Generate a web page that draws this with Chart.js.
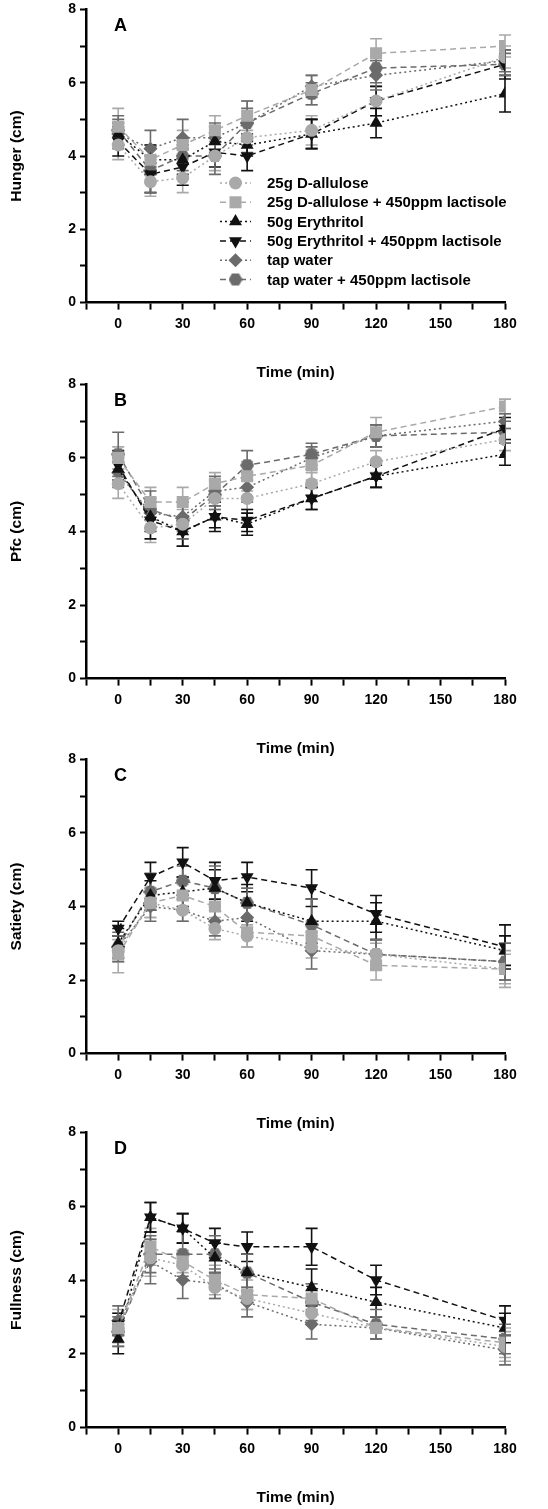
<!DOCTYPE html>
<html>
<head>
<meta charset="utf-8">
<script src="https://cdn.jsdelivr.net/npm/chart.js@4.4.1/dist/chart.umd.min.js"></script>
<style>
html, body { margin: 0; padding: 0; background: #fff; }
body { width: 548px; height: 1509px; position: relative; overflow: hidden; }
canvas { position: absolute; left: 0; }
</style>
</head>
<body>
<canvas id="cA" width="548" height="388" style="top:-3px"></canvas>
<canvas id="cB" width="548" height="389" style="top:372px"></canvas>
<canvas id="cC" width="548" height="389" style="top:747px"></canvas>
<canvas id="cD" width="548" height="390" style="top:1120px"></canvas>
<script>
// time points (min)
const times = [0, 15, 30, 45, 60, 90, 120, 180];
const xTicks = [0, 30, 60, 90, 120, 150, 180];
const yTicks = [0, 2, 4, 6, 8];

const seriesNames = [
  '25g D-allulose',
  '25g D-allulose + 450ppm lactisole',
  '50g Erythritol',
  '50g Erythritol + 450ppm lactisole',
  'tap water',
  'tap water + 450ppm lactisole'
];

// one row per series, same order as seriesNames
const hungerMean = [
  [4.3, 3.3, 3.4, 4.0, 4.5, 4.7, 5.5, 6.7],
  [4.8, 3.9, 4.3, 4.7, 5.1, 5.8, 6.8, 7.0],
  [4.6, 3.9, 3.9, 4.4, 4.3, 4.6, 4.9, 5.7],
  [4.4, 3.5, 3.7, 4.1, 4.0, 4.6, 5.5, 6.5],
  [4.6, 4.2, 4.5, 4.5, 4.9, 5.9, 6.2, 6.6],
  [4.7, 3.6, 4.0, 4.0, 4.9, 5.7, 6.4, 6.5]
];
const hungerSem = [
  [0.4, 0.4, 0.4, 0.4, 0.4, 0.4, 0.4, 0.3],
  [0.5, 0.4, 0.4, 0.4, 0.4, 0.4, 0.4, 0.3],
  [0.3, 0.4, 0.4, 0.4, 0.3, 0.4, 0.4, 0.5],
  [0.4, 0.5, 0.5, 0.4, 0.4, 0.4, 0.4, 0.4],
  [0.4, 0.5, 0.5, 0.4, 0.4, 0.3, 0.4, 0.3],
  [0.4, 0.6, 0.4, 0.5, 0.6, 0.3, 0.4, 0.3]
];

const pfcMean = [
  [5.3, 4.1, 4.2, 4.9, 4.9, 5.3, 5.9, 6.5],
  [6.0, 4.8, 4.8, 5.3, 5.5, 5.8, 6.7, 7.4],
  [5.7, 4.4, 4.0, 4.4, 4.2, 4.9, 5.5, 6.1],
  [5.8, 4.3, 4.0, 4.4, 4.3, 4.9, 5.5, 6.8],
  [5.6, 4.5, 4.4, 5.1, 5.2, 6.0, 6.6, 7.0],
  [6.1, 4.6, 4.3, 5.0, 5.8, 6.1, 6.6, 6.7]
];
const pfcSem = [
  [0.4, 0.4, 0.4, 0.3, 0.3, 0.3, 0.3, 0.3],
  [0.3, 0.4, 0.4, 0.3, 0.4, 0.4, 0.4, 0.2],
  [0.4, 0.4, 0.4, 0.4, 0.3, 0.3, 0.3, 0.3],
  [0.4, 0.5, 0.4, 0.3, 0.3, 0.3, 0.3, 0.3],
  [0.4, 0.4, 0.4, 0.4, 0.4, 0.3, 0.3, 0.2],
  [0.6, 0.5, 0.5, 0.4, 0.4, 0.3, 0.3, 0.3]
];

const satietyMean = [
  [2.8, 4.1, 3.9, 3.4, 3.2, 2.9, 2.7, 2.3],
  [2.7, 4.1, 4.3, 4.0, 3.3, 3.2, 2.4, 2.3],
  [3.0, 4.3, 4.4, 4.5, 4.1, 3.6, 3.6, 2.8],
  [3.4, 4.8, 5.2, 4.7, 4.8, 4.5, 3.8, 2.9],
  [2.9, 4.0, 3.9, 3.6, 3.7, 2.8, 2.7, 2.5],
  [2.9, 4.4, 4.7, 4.5, 4.1, 3.5, 2.7, 2.5]
];
const satietySem = [
  [0.3, 0.4, 0.3, 0.3, 0.3, 0.3, 0.3, 0.4],
  [0.5, 0.4, 0.3, 0.4, 0.4, 0.4, 0.4, 0.5],
  [0.4, 0.4, 0.4, 0.5, 0.5, 0.6, 0.5, 0.4],
  [0.2, 0.4, 0.4, 0.5, 0.4, 0.5, 0.5, 0.6],
  [0.3, 0.4, 0.3, 0.4, 0.4, 0.5, 0.4, 0.5],
  [0.4, 0.5, 0.4, 0.6, 0.4, 0.7, 0.4, 0.5]
];

const fullnessMean = [
  [2.7, 4.6, 4.4, 3.8, 3.5, 3.1, 2.7, 2.2],
  [2.7, 4.9, 4.5, 4.0, 3.6, 3.5, 2.7, 2.3],
  [2.4, 5.7, 5.4, 4.6, 4.2, 3.8, 3.4, 2.7],
  [2.8, 5.7, 5.4, 5.0, 4.9, 4.9, 4.0, 2.9],
  [2.9, 4.5, 4.0, 3.9, 3.4, 2.8, 2.7, 2.1],
  [2.6, 4.7, 4.7, 4.7, 4.2, 3.4, 2.8, 2.4]
];
const fullnessSem = [
  [0.4, 0.5, 0.4, 0.3, 0.3, 0.3, 0.3, 0.4],
  [0.5, 0.5, 0.3, 0.4, 0.4, 0.4, 0.3, 0.4],
  [0.4, 0.4, 0.4, 0.4, 0.5, 0.5, 0.4, 0.4],
  [0.3, 0.4, 0.4, 0.4, 0.4, 0.5, 0.4, 0.4],
  [0.4, 0.6, 0.5, 0.4, 0.4, 0.4, 0.3, 0.4],
  [0.4, 0.5, 0.6, 0.5, 0.5, 0.5, 0.4, 0.4]
];

const LIGHT = '#a9a9a9';
const DARK = '#6b6b6b';
const BLACK = '#111111';
const FONT = "'Liberation Sans', Arial, sans-serif";

function hexagon(color, size) {
  const c = document.createElement('canvas');
  c.width = size; c.height = size;
  const g = c.getContext('2d');
  const r = size / 2;
  g.fillStyle = color;
  g.beginPath();
  for (let i = 0; i < 6; i++) {
    const a = Math.PI / 3 * i;
    g.lineTo(r + r * Math.cos(a), r + r * Math.sin(a));
  }
  g.closePath();
  g.fill();
  return c;
}

const styles = [
  { color: LIGHT, dash: [2, 3], point: 'circle', radius: 6.5, rot: 0 },
  { color: LIGHT, dash: [6, 4], point: 'rect', radius: 8.5, rot: 0 },
  { color: BLACK, dash: [2, 3], point: 'triangle', radius: 7.5, rot: 0 },
  { color: BLACK, dash: [6, 4], point: 'triangle', radius: 7.5, rot: 180 },
  { color: DARK, dash: [2, 3], point: 'rectRot', radius: 7, rot: 0 },
  { color: DARK, dash: [6, 4], point: hexagon(DARK, 14), radius: 7, rot: 0 }
];

const errorBars = {
  id: 'errorBars',
  beforeDatasetsDraw(chart) {
    const ctx = chart.ctx;
    const y = chart.scales.y;
    ctx.save();
    ctx.lineWidth = 1.6;
    chart.data.datasets.forEach((ds, i) => {
      const meta = chart.getDatasetMeta(i);
      ctx.strokeStyle = ds.borderColor;
      meta.data.forEach((pt, j) => {
        const v = ds.data[j].y;
        const top = y.getPixelForValue(v + ds.sem[j]);
        const bot = y.getPixelForValue(v - ds.sem[j]);
        ctx.beginPath();
        ctx.moveTo(pt.x, top); ctx.lineTo(pt.x, bot);
        ctx.moveTo(pt.x - 6, top); ctx.lineTo(pt.x + 6, top);
        ctx.moveTo(pt.x - 6, bot); ctx.lineTo(pt.x + 6, bot);
        ctx.stroke();
      });
    });
    ctx.restore();
  }
};

const panelText = {
  id: 'panelText',
  afterDraw(chart, args, opts) {
    const ctx = chart.ctx;
    const area = chart.chartArea;
    ctx.save();
    ctx.fillStyle = '#000';
    ctx.font = 'bold 18px ' + FONT;
    ctx.textBaseline = 'alphabetic';
    ctx.fillText(opts.letter, area.left + 28, area.top + 22);
    if (opts.legend) {
      ctx.font = 'bold 15px ' + FONT;
      ctx.textBaseline = 'middle';
      chart.data.datasets.forEach((ds, i) => {
        const ly = 186 + i * 19.3;
        const lx = 220;
        ctx.strokeStyle = ds.borderColor;
        ctx.lineWidth = 1.5;
        ctx.setLineDash(ds.borderDash);
        ctx.beginPath();
        ctx.moveTo(lx, ly); ctx.lineTo(lx + 31, ly);
        ctx.stroke();
        ctx.setLineDash([]);
        ctx.fillStyle = ds.backgroundColor;
        ctx.strokeStyle = ds.borderColor;
        if (Chart.helpers && Chart.helpers.drawPoint) {
          Chart.helpers.drawPoint(ctx, {
            pointStyle: ds.pointStyle, radius: ds.pointRadius,
            rotation: ds.pointRotation, borderWidth: 0
          }, lx + 15.5, ly);
        }
        ctx.fillStyle = '#000';
        ctx.fillText(ds.label, 267, ly + 1);
      });
    }
    ctx.restore();
  }
};

function makeChart(id, yTitle, letter, means, sems, legend, padBottom) {
  const datasets = seriesNames.map((name, i) => ({
    label: name,
    data: times.map((t, j) => ({ x: t, y: means[i][j] })),
    sem: sems[i],
    borderColor: styles[i].color,
    backgroundColor: styles[i].color,
    borderDash: styles[i].dash,
    borderWidth: 1.5,
    pointStyle: styles[i].point,
    pointRadius: styles[i].radius,
    pointRotation: styles[i].rot,
    pointBorderWidth: 0,
    tension: 0,
    fill: false
  }));

  return new Chart(document.getElementById(id), {
    type: 'line',
    data: { datasets },
    plugins: [errorBars, panelText],
    options: {
      responsive: false,
      animation: false,
      layout: { padding: { top: 5, right: 43, bottom: padBottom, left: 0 } },
      plugins: {
        legend: { display: false },
        tooltip: { enabled: false },
        panelText: { letter, legend }
      },
      scales: {
        x: {
          type: 'linear',
          min: -15,
          max: 180,
          grid: { drawOnChartArea: false, tickLength: 7, tickWidth: 2, tickColor: '#000' },
          border: { color: '#000', width: 2.5 },
          ticks: {
            stepSize: 15,
            autoSkip: false,
            maxRotation: 0,
            padding: 6,
            color: '#000',
            font: { family: FONT, size: 14, weight: 'bold' },
            callback: (v) => xTicks.includes(v) ? String(v) : ''
          },
          title: {
            display: true,
            text: 'Time (min)',
            color: '#000',
            font: { family: FONT, size: 15.5, weight: 'bold' },
            padding: { top: 25, bottom: 0 }
          }
        },
        y: {
          min: 0,
          max: 8,
          afterFit: (scale) => { scale.width = 86; },
          grid: { drawOnChartArea: false, tickLength: 6, tickWidth: 2, tickColor: '#000' },
          border: { color: '#000', width: 2.5 },
          ticks: {
            stepSize: 1,
            autoSkip: false,
            padding: 4,
            color: '#000',
            font: { family: FONT, size: 14, weight: 'bold' },
            callback: (v) => yTicks.includes(v) ? String(v) : ''
          },
          title: {
            display: true,
            text: yTitle,
            color: '#000',
            font: { family: FONT, size: 15.5, weight: 'bold' },
            padding: { top: 7, bottom: 0 }
          }
        }
      }
    }
  });
}

makeChart('cA', 'Hunger (cm)', 'A', hungerMean, hungerSem, true, 3);
makeChart('cB', 'Pfc (cm)', 'B', pfcMean, pfcSem, false, 3);
makeChart('cC', 'Satiety (cm)', 'C', satietyMean, satietySem, false, 3);
makeChart('cD', 'Fullness (cm)', 'D', fullnessMean, fullnessSem, false, 3);
</script>
</body>
</html>
